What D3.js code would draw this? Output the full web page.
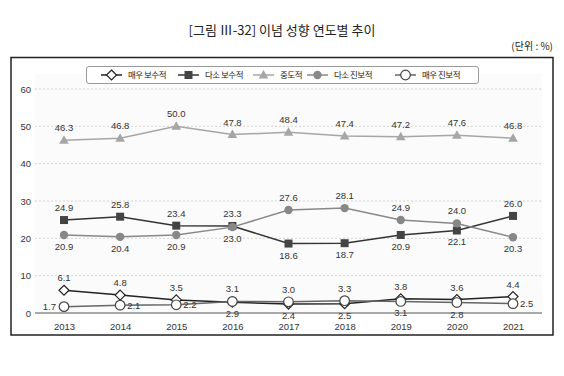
<!DOCTYPE html>
<html>
<head>
<meta charset="utf-8">
<script src="https://cdn.jsdelivr.net/npm/d3@7"></script>
<style>
	body { margin: 0; background: #fff; }
	svg text { font-family: "Liberation Sans", Arial, sans-serif; fill: #333; }
	svg text.kr { font-family: "Noto Sans CJK KR", sans-serif; }
</style>
</head>
<body>
<div id="chart"></div>
<script>
// data
const years = ["2013", "2014", "2015", "2016", "2017", "2018", "2019", "2020", "2021"];
const yTicks = [0, 10, 20, 30, 40, 50, 60];

const veryConservative = [6.1, 4.8, 3.5, 2.9, 2.4, 2.5, 3.8, 3.6, 4.4];
const someConservative = [24.9, 25.8, 23.4, 23.3, 18.6, 18.7, 20.9, 22.1, 26.0];
const moderate = [46.3, 46.8, 50.0, 47.8, 48.4, 47.4, 47.2, 47.6, 46.8];
const someProgressive = [20.9, 20.4, 20.9, 23.0, 27.6, 28.1, 24.9, 24.0, 20.3];
const veryProgressive = [1.7, 2.1, 2.2, 3.1, 3.0, 3.3, 3.1, 2.8, 2.5];

const seriesNames = ["매우 보수적", "다소 보수적", "중도적", "다소 진보적", "매우 진보적"];

// where each value label sits relative to its point (a = above, b = below, l = left, r = right)
const labelSide = [
	["a", "a", "a", "b", "b", "b", "a", "a", "a"],
	["a", "a", "a", "a", "b", "b", "b", "b", "a"],
	["a", "a", "a", "a", "a", "a", "a", "a", "a"],
	["b", "b", "b", "b", "a", "a", "a", "a", "b"],
	["l", "r", "r", "a", "a", "a", "b", "b", "r"]
];

const W = 564, H = 376;
const svg = d3.select("#chart").append("svg")
	.attr("width", W)
	.attr("height", H);

// title + unit
svg.append("text").attr("class", "kr")
	.attr("x", 282).attr("y", 35)
	.attr("text-anchor", "middle")
	.style("font-size", "13px")
	.style("fill", "#222")
	.text("[그림 Ⅲ-32] 이념 성향 연도별 추이");

svg.append("text").attr("class", "kr")
	.attr("x", 553).attr("y", 50)
	.attr("text-anchor", "end")
	.style("font-size", "10px")
	.style("fill", "#222")
	.text("(단위 : %)");

// frame
svg.append("rect")
	.attr("x", 11).attr("y", 57.5)
	.attr("width", 542).attr("height", 277.5)
	.attr("fill", "none")
	.attr("stroke", "#222")
	.attr("stroke-width", 1.5);

const x = d3.scalePoint().domain(years).range([64, 513]);
const y = d3.scaleLinear().domain([0, 60]).range([313, 89]);
const x0 = 35, x1 = 542;

// light plot background
svg.append("rect")
	.attr("x", x0).attr("y", 74)
	.attr("width", x1 - x0).attr("height", y(0) - 74)
	.attr("fill", "#fbfbfb");

// grid
svg.append("g").selectAll("line")
	.data(yTicks.filter(d => d > 0))
	.enter().append("line")
	.attr("x1", x0).attr("x2", x1)
	.attr("y1", d => y(d)).attr("y2", d => y(d))
	.attr("stroke", "#c8c8c8")
	.attr("stroke-dasharray", "2,2")
	.attr("stroke-width", 0.8);

// y labels
svg.append("g").selectAll("text")
	.data(yTicks)
	.enter().append("text")
	.attr("x", 31).attr("y", d => y(d) + 3.5)
	.attr("text-anchor", "end")
	.style("font-size", "9.5px")
	.text(d => d);

// x axis
const xAxis = svg.append("g")
	.attr("transform", `translate(0,${y(0)})`)
	.call(d3.axisBottom(x).tickSize(0).tickPadding(10));
xAxis.select(".domain").attr("d", `M${x0},0H${x1}`).attr("stroke", "#555").attr("stroke-width", 1);
xAxis.selectAll("text")
	.style("font-size", "9.5px")
	.style("font-family", "Liberation Sans, Arial, sans-serif")
	.attr("fill", "#333");

const series = [
	{ name: seriesNames[0], values: veryConservative, line: "#222", marker: "diamond", fill: "#fff", stroke: "#222" },
	{ name: seriesNames[1], values: someConservative, line: "#333", marker: "square", fill: "#444", stroke: "#444" },
	{ name: seriesNames[2], values: moderate, line: "#a6a6a6", marker: "triangle", fill: "#a6a6a6", stroke: "#a6a6a6" },
	{ name: seriesNames[3], values: someProgressive, line: "#888", marker: "circle", fill: "#888", stroke: "#888" },
	{ name: seriesNames[4], values: veryProgressive, line: "#666", marker: "ocircle", fill: "#fff", stroke: "#444" }
];

function drawMarker(g, type, cx, cy, s) {
	if (type === "diamond") {
		g.append("path")
			.attr("d", `M${cx},${cy - 5}L${cx + 5},${cy}L${cx},${cy + 5}L${cx - 5},${cy}Z`)
			.attr("fill", s.fill).attr("stroke", s.stroke).attr("stroke-width", 1.2);
	} else if (type === "square") {
		g.append("rect")
			.attr("x", cx - 4).attr("y", cy - 4).attr("width", 8).attr("height", 8)
			.attr("fill", s.fill);
	} else if (type === "triangle") {
		g.append("path")
			.attr("d", `M${cx},${cy - 5}L${cx + 4.8},${cy + 3.5}L${cx - 4.8},${cy + 3.5}Z`)
			.attr("fill", s.fill);
	} else if (type === "circle") {
		g.append("circle").attr("cx", cx).attr("cy", cy).attr("r", 4.2).attr("fill", s.fill);
	} else {
		g.append("circle").attr("cx", cx).attr("cy", cy).attr("r", 4.8)
			.attr("fill", s.fill).attr("stroke", s.stroke).attr("stroke-width", 1.2);
	}
}

const line = d3.line()
	.x((d, i) => x(years[i]))
	.y(d => y(d));

series.forEach((s, si) => {
	const g = svg.append("g");
	g.append("path")
		.attr("d", line(s.values))
		.attr("fill", "none")
		.attr("stroke", s.line)
		.attr("stroke-width", 1.5);
	s.values.forEach((v, i) => drawMarker(g, s.marker, x(years[i]), y(v), s));
});

// value labels on top
series.forEach((s, si) => {
	svg.append("g").selectAll("text")
		.data(s.values)
		.enter().append("text")
		.attr("x", (d, i) => {
			const side = labelSide[si][i];
			if (side === "l") return x(years[i]) - 8;
			if (side === "r") return x(years[i]) + 7;
			return x(years[i]);
		})
		.attr("y", (d, i) => {
			const side = labelSide[si][i];
			if (side === "a") return y(d) - 9;
			if (side === "b") return y(d) + 15;
			return y(d) + 3.5;
		})
		.attr("text-anchor", (d, i) => {
			const side = labelSide[si][i];
			return side === "l" ? "end" : side === "r" ? "start" : "middle";
		})
		.style("font-size", "9.5px")
		.text(d => d.toFixed(1));
});

// legend
const legend = svg.append("g");
legend.append("rect")
	.attr("x", 86.5).attr("y", 66.5)
	.attr("width", 392).attr("height", 17)
	.attr("rx", 2.5)
	.attr("fill", "#fff")
	.attr("stroke", "#999");

const legendX = [101, 178, 253, 307, 395];
series.forEach((s, i) => {
	const lx = legendX[i], ly = 75;
	const g = legend.append("g");
	g.append("line")
		.attr("x1", lx).attr("x2", lx + 21)
		.attr("y1", ly).attr("y2", ly)
		.attr("stroke", s.line).attr("stroke-width", 1.5);
	drawMarker(g, s.marker, lx + 10.5, ly, s);
	g.append("text").attr("class", "kr")
		.attr("x", lx + 27).attr("y", ly + 3)
		.style("font-size", "8.5px")
		.style("letter-spacing", "-0.5px")
		.style("fill", "#222")
		.text(s.name);
});
</script>
</body>
</html>
